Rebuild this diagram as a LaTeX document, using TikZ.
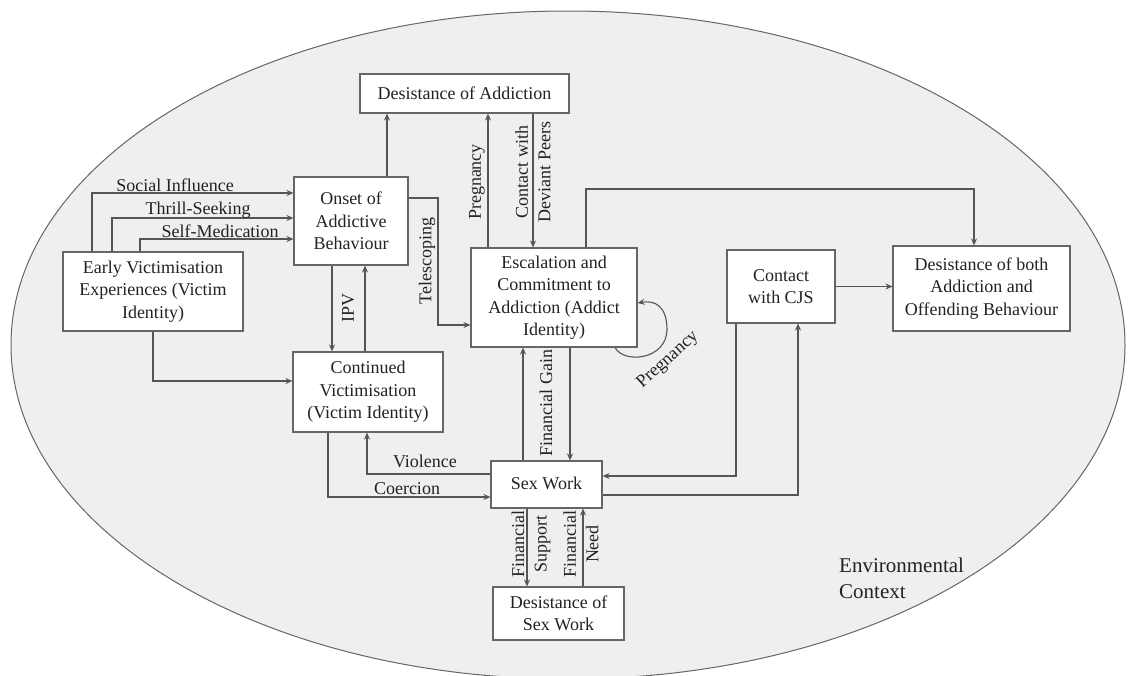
\documentclass[tikz,border=0pt]{standalone}
\usepackage{fontspec}
\setmainfont{Liberation Serif}
\usetikzlibrary{arrows.meta}
\definecolor{bgc}{HTML}{EFEFEF}
\definecolor{linec}{HTML}{555555}
\definecolor{boxc}{HTML}{666666}
\definecolor{txtc}{HTML}{222222}
\begin{document}
\begin{tikzpicture}[x=1pt,y=-1pt,
  box/.style={draw=boxc, line width=1.1pt, fill=white, align=center, inner sep=0pt, text=txtc, font=\fontsize{18}{22.5}\selectfont},
  conn/.style={draw=linec, line width=1.1pt, -{Stealth[length=7pt,width=6pt]}},
  lbl/.style={text=txtc, font=\fontsize{18}{22.5}\selectfont, inner sep=0pt, align=center},
  envlbl/.style={text=txtc, font=\fontsize{21}{26}\selectfont, inner sep=0pt, anchor=base west},
]
\useasboundingbox (0,0) rectangle (1132,675);
\fill[white] (0,0) rectangle (1132,675);
\draw[boxc, line width=1pt, fill=bgc] (568,345) ellipse [x radius=557pt, y radius=334pt];

% boxes
\node[box, minimum width=209pt, minimum height=39pt] (desadd) at (464.5,93.5) {Desistance of Addiction};
\node[box, minimum width=114pt, minimum height=88pt] (onset) at (351,221) {Onset of\\Addictive\\Behaviour};
\node[box, minimum width=180pt, minimum height=79pt] (early) at (153,291.5) {Early Victimisation\\Experiences (Victim\\Identity)};
\node[box, minimum width=166pt, minimum height=99pt] (esc) at (554,297.5) {Escalation and\\Commitment to\\Addiction (Addict\\Identity)};
\node[box, minimum width=150pt, minimum height=80pt] (cont) at (368,392) {Continued\\Victimisation\\(Victim Identity)};
\node[box, minimum width=108pt, minimum height=73pt] (cjs) at (781,286.5) {Contact\\with CJS};
\node[box, minimum width=177pt, minimum height=85pt] (both) at (981.5,288.5) {Desistance of both\\Addiction and\\Offending Behaviour};
\node[box, minimum width=111pt, minimum height=47pt] (sex) at (546.5,484.5) {\raisebox{3pt}{Sex Work}};
\node[box, minimum width=131pt, minimum height=53pt] (dsw) at (558.5,613.5) {Desistance of\\Sex Work};

% routing coordinates
\coordinate (si) at (92,193);
\coordinate (ts) at (112,218);
\coordinate (sm) at (140,239);
\coordinate (od) at (387,0);
\coordinate (pg) at (488,0);
\coordinate (cp) at (533,0);
\coordinate (tl) at (438,198);
\coordinate (tl2) at (438,325);
\coordinate (eb) at (586,189);
\coordinate (eb2) at (974,189);
\coordinate (cs) at (736,476);
\coordinate (sc) at (798,495);
\coordinate (fg) at (523,0);
\coordinate (fg2) at (570,0);
\coordinate (vi) at (367,474);
\coordinate (co) at (328,497);
\coordinate (ipa) at (332,0);
\coordinate (ipb) at (365,0);
\coordinate (ec) at (153,381);
\coordinate (fs) at (527,0);
\coordinate (fn) at (583,0);
\coordinate (lp) at (615,0);
\coordinate (lq) at (0,303);

% connectors
\draw[conn] (si |- early.north) |- (onset.west |- si);
\draw[conn] (ts |- early.north) |- (onset.west |- ts);
\draw[conn] (sm |- early.north) |- (onset.west |- sm);
\draw[conn] (od |- onset.north) -- (od |- desadd.south);
\draw[conn] (pg |- esc.north) -- (pg |- desadd.south);
\draw[conn] (cp |- desadd.south) -- (cp |- esc.north);
\draw[conn] (onset.east |- tl) -- (tl) -- (tl2) -- (esc.west |- tl2);
\draw[conn] (eb |- esc.north) -- (eb) -- (eb2) -- (eb2 |- both.north);
\draw[conn] (cjs.east) -- (both.west |- cjs.east);
\draw[conn] (cs |- cjs.south) -- (cs) -- (sex.east |- cs);
\draw[conn] (sex.east |- sc) -- (sc) -- (sc |- cjs.south);
\draw[conn] (fg |- sex.north) -- (fg |- esc.south);
\draw[conn] (fg2 |- esc.south) -- (fg2 |- sex.north);
\draw[conn] (sex.west |- vi) -- (vi) -- (vi |- cont.south);
\draw[conn] (co |- cont.south) -- (co) -- (sex.west |- co);
\draw[conn] (ipa |- onset.south) -- (ipa |- cont.north);
\draw[conn] (ipb |- cont.north) -- (ipb |- onset.south);
\draw[conn] (ec |- early.south) -- (ec) -- (cont.west |- ec);
\draw[conn] (fs |- sex.south) -- (fs |- dsw.north);
\draw[conn] (fn |- dsw.north) -- (fn |- sex.south);
\draw[conn] (lp |- esc.south) .. controls (624,364) and (666,360) .. (667,330) .. controls (667,306) and (655,300) .. (esc.east |- lq);

% labels
\node[lbl, anchor=base] (lsi) at (175,191) {Social Influence};
\node[lbl, anchor=base] (lts) at (198,214) {Thrill-Seeking};
\node[lbl, anchor=base] (lsm) at (220,237) {Self-Medication};
\node[lbl, rotate=90] (lpg) at (477,182) {Pregnancy};
\node[lbl, rotate=90] (lcp) at (533,172) {Contact with\\Deviant Peers};
\node[lbl, rotate=90] (ltl) at (427,261) {Telescoping};
\node[lbl, rotate=42] (lpg2) at (668,360) {Pregnancy};
\node[lbl, rotate=90] (lfg) at (546,403) {Financial Gain};
\node[lbl, anchor=base] (lvi) at (425,467) {Violence};
\node[lbl, anchor=base] (lco) at (407,494) {Coercion};
\node[lbl, rotate=90] (lip) at (348,308) {IPV};
\node[lbl, rotate=90] (lfs) at (531,544) {Financial\\Support};
\node[lbl, rotate=90] (lfn) at (581,544) {Financial\\Need};
\node[envlbl] (env1) at (839,572) {Environmental};
\node[envlbl] (env2) at (839,598) {Context};
\end{tikzpicture}
\end{document}
